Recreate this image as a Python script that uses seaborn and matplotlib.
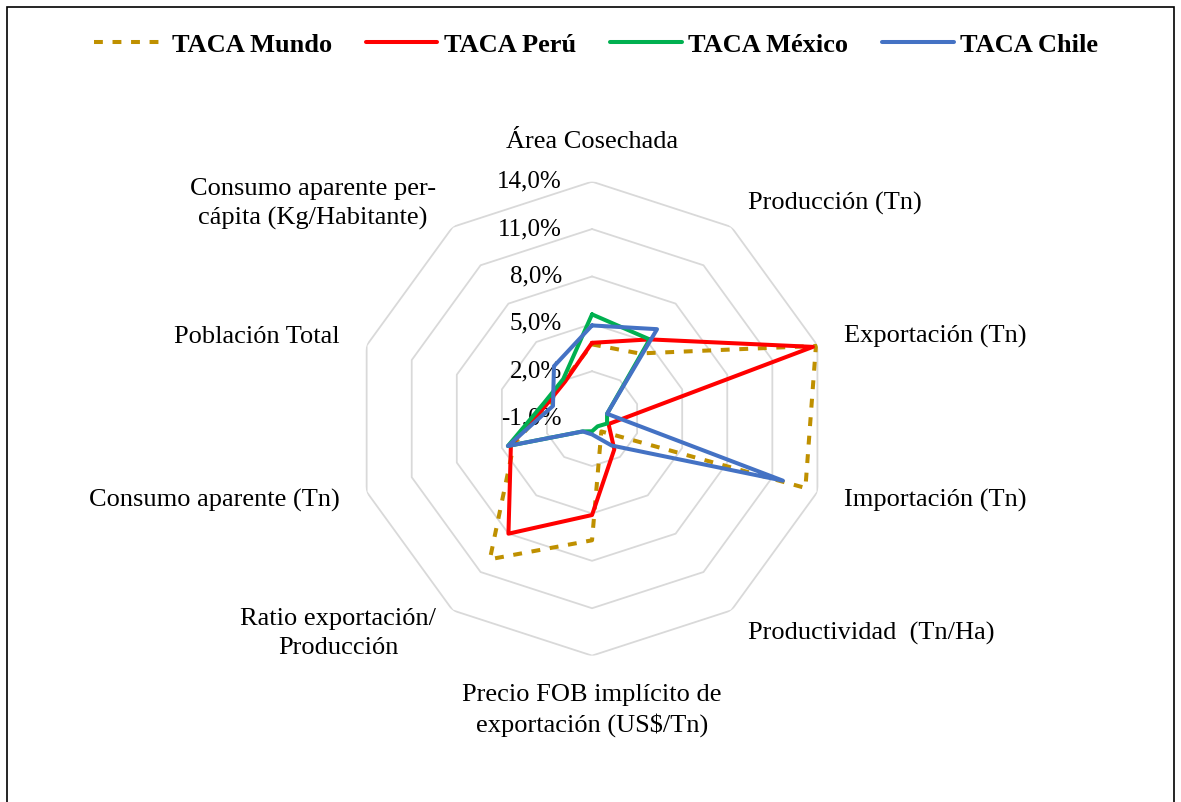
import numpy as np
import matplotlib
matplotlib.use("Agg")
import matplotlib.pyplot as plt
import seaborn as sns
from matplotlib.patches import Rectangle

sns.set_style("white")
plt.rcParams['font.family'] = ['Liberation Serif', 'DejaVu Serif']
plt.rcParams['text.color'] = 'black'

# data (annual growth rates, %)
categories = ["Área Cosechada", "Producción (Tn)", "Exportación (Tn)", "Importación (Tn)",
              "Productividad  (Tn/Ha)", "Precio FOB implícito de\nexportación (US$/Tn)",
              "Ratio exportación/\nProducción", "Consumo aparente (Tn)", "Población Total",
              "Consumo aparente per-\ncápita (Kg/Habitante)"]
mundo = [3.7, 4.1, 13.9, 13.2, 0.0, 6.7, 10.0, 4.2, 1.9, 2.0]
peru = [3.8, 5.2, 13.7, 0.1, 1.4, 5.1, 8.0, 4.4, 2.0, 1.9]
mexico = [5.6, 5.2, 0.0, 0.0, -0.4, -0.2, 0.0, 4.6, 2.2, 2.1]
chile = [4.9, 6.0, 0.0, 11.7, 1.1, 0.0, 0.0, 4.6, 1.6, 3.1]
ring_ticks = [-1, 2, 5, 8, 11, 14]

series = [("TACA Mundo", mundo, "#BF9000", (0, (2.2, 2.4))),
          ("TACA Perú", peru, "#FF0000", "-"),
          ("TACA México", mexico, "#00B050", "-"),
          ("TACA Chile", chile, "#4472C4", "-")]

n = len(categories)
theta = np.linspace(0, 2 * np.pi, n, endpoint=False)
theta_c = np.append(theta, theta[0] + 2 * np.pi)

fig = plt.figure(figsize=(11.81, 8.02), dpi=100)
ax = fig.add_axes([0.3006, 0.1825, 0.4014, 0.591], projection="polar")
ax.set_theta_zero_location("N")
ax.set_theta_direction(-1)
ax.set_ylim(ring_ticks[0], ring_ticks[-1])
ax.grid(False)
ax.set_xticks([])
ax.set_yticks([])
ax.spines["polar"].set_visible(False)
ax.patch.set_alpha(0)

# polygon gridlines + ring labels
for lv in ring_ticks:
    if lv > ring_ticks[0]:
        ax.plot(theta_c, [lv] * (n + 1), color="#D9D9D9", lw=1.3, zorder=1)
    ax.annotate(f"{lv:.1f}%".replace(".", ","), xy=(0, lv), xytext=(-30, 0),
                textcoords="offset pixels", ha="right", va="center", fontsize=18)

for i, (name, vals, col, ls) in enumerate(series):
    v = list(vals) + [vals[0]]
    sns.lineplot(x=theta_c, y=v, sort=False, estimator=None, ax=ax, color=col,
                 lw=2.9, linestyle=ls, label=name, zorder=3 + i)

# category labels
for t, lab in zip(theta, categories):
    deg = np.degrees(t)
    if np.isclose(deg, 0):
        ha, va = "center", "bottom"
    elif np.isclose(deg, 180):
        ha, va = "center", "top"
    elif deg < 180:
        ha, va = "left", "center"
    else:
        ha, va = "right", "center"
    ax.text(t, 15.8, lab, ha=ha, va=va, fontsize=19, multialignment="center",
            linespacing=1.4)

handles, labels = ax.get_legend_handles_labels()
ax.get_legend().remove()
fig.legend(handles, labels, loc="center", bbox_to_anchor=(0.5047, 1 - 45 / 802), ncol=4,
           frameon=False, prop={"family": "Liberation Serif", "weight": "bold", "size": 19},
           handlelength=2.7, handletextpad=0.25, columnspacing=1.3)

fig.add_artist(Rectangle((7 / 1181, -0.02), 1167 / 1181, 1 - 7 / 802 + 0.02,
                         transform=fig.transFigure, fill=False, ec="black", lw=1.2))

fig.savefig("out.png", dpi=100)
